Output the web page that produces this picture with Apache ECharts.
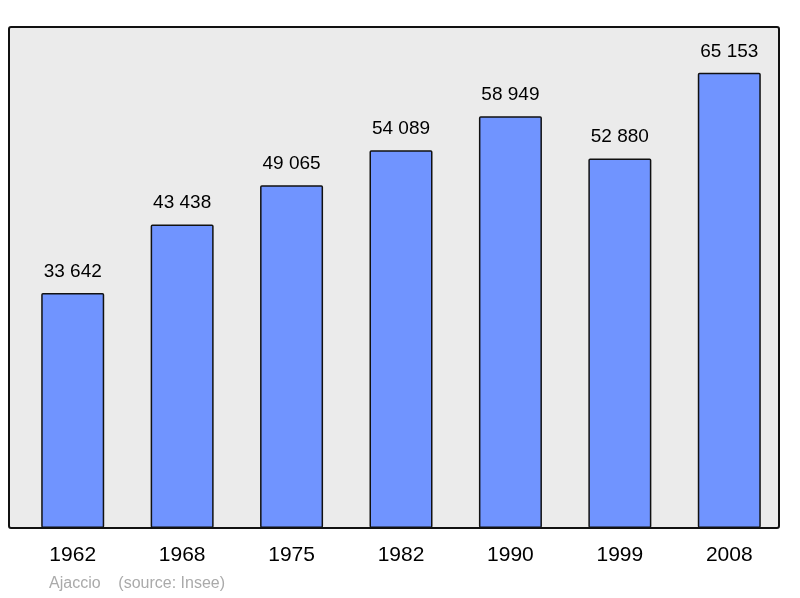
<!DOCTYPE html>
<html>
<head>
<meta charset="utf-8">
<script src="https://cdn.jsdelivr.net/npm/echarts@6/dist/echarts.min.js"></script>
<style>html,body{margin:0;padding:0;background:#fff}</style>
</head>
<body>
<div id="chart" style="width:800px;height:598px"></div>
<script>
var years = ['1962', '1968', '1975', '1982', '1990', '1999', '2008'];
var population = [33642, 43438, 49065, 54089, 58949, 52880, 65153];

function fmt(v) {
    return String(v).replace(/\B(?=(\d{3})+(?!\d))/g, ' ');
}

var myChart = echarts.init(document.getElementById('chart'));
myChart.setOption({
    backgroundColor: '#fff',
    animation: false,
    grid: {left: 18, right: 16, top: 27, bottom: 70},
    xAxis: {
        type: 'category',
        data: years,
        axisLine: {show: false},
        axisTick: {show: false},
        axisLabel: {
            color: '#000', fontSize: 21, margin: 17,
            fontFamily: 'Liberation Sans'
        }
    },
    yAxis: {
        type: 'value',
        min: 0,
        max: 71720,
        show: false,
        splitLine: {show: false}
    },
    series: [{
        type: 'bar',
        data: population,
        barWidth: 63,
        itemStyle: {color: '#7094ff', borderColor: '#111', borderWidth: 1.5, borderRadius: 1},
        label: {
            show: true,
            position: 'top',
            distance: 12,
            color: '#000',
            fontSize: 19,
            fontFamily: 'Liberation Sans',
            formatter: function (p) { return fmt(p.value); }
        }
    }],
    graphic: [{
        type: 'rect',
        z: -10,
        shape: {x: 9, y: 27, width: 770, height: 501, r: 2},
        style: {fill: '#ebebeb', stroke: '#111', lineWidth: 2}
    }, {
        type: 'text',
        left: 49,
        top: 576,
        style: {
            text: 'Ajaccio    (source: Insee)',
            fill: '#aaa',
            font: '16px "Liberation Sans"'
        }
    }]
});
</script>
</body>
</html>
